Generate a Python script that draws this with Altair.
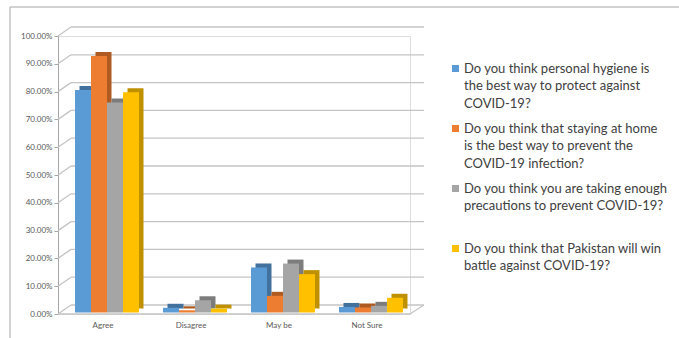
import altair as alt
import pandas as pd

categories = ["Agree", "Disagree", "May be", "Not Sure"]
series = [
    "Do you think personal hygiene is|the best way to protect against|COVID-19?",
    "Do you think that staying at home|is the best way to prevent the|COVID-19 infection?",
    "Do you think you are taking enough|precautions to prevent COVID-19?",
    "Do you think that Pakistan will win|battle against COVID-19?",
]
hygiene = [0.800, 0.017, 0.162, 0.020]
home = [0.923, 0.008, 0.060, 0.018]
precautions = [0.755, 0.044, 0.176, 0.024]
pakistan = [0.792, 0.014, 0.138, 0.053]
colors = ["#5B9BD5", "#ED7D31", "#A5A5A5", "#FFC000"]
side_colors = ["#41719C", "#AE5A21", "#7C7C7C", "#BF9000"]
ticks = [0.0, 0.1, 0.2, 0.3, 0.4, 0.5, 0.6, 0.7, 0.8, 0.9, 1.0]

rows = []
for s, vals, dark in zip(series, [hygiene, home, precautions, pakistan], side_colors):
    for c, v in zip(categories, vals):
        rows.append({"category": c, "series": s, "t": v, "side": dark})
df = pd.DataFrame(rows)
tick_df = pd.DataFrame({"t": ticks})
floor_df = pd.DataFrame({"t": [0.0]})
dummy = pd.DataFrame({"a": [0]})

FONT = "Lato"
W, H = 352, 278
DX, DY = 13, -9

y_axis = alt.Axis(format=".2%", values=ticks, grid=False, title=None,
                  domainColor="#a6a6a6", tickColor="#a6a6a6", tickSize=4,
                  labelFontSize=8, labelColor="#595959", labelFont=FONT,
                  labelPadding=2)
y_scale = alt.Scale(domain=[0, 1], nice=False)
x_axis = alt.Axis(title=None, domain=False, ticks=False, labelAngle=0,
                  labelFontSize=8, labelColor="#595959", labelFont=FONT,
                  labelPadding=7, labelOffset=-4)
xo_scale = alt.Scale(paddingInner=0, paddingOuter=0)

def Y():
    return alt.Y("t:Q", scale=y_scale, axis=y_axis)

def xscale(shift):
    return alt.Scale(paddingInner=24 / 88, paddingOuter=12 / 88, range=[shift, W + shift])

grid_h = alt.Chart(tick_df).mark_rule(color="#c4c4c4", strokeWidth=1.3, yOffset=DY).encode(
    y=Y(), x=alt.value(DX), x2=alt.value(W + DX + 1)
)
grid_d = alt.Chart(tick_df).mark_rule(color="#c4c4c4", strokeWidth=1.3, y2Offset=DY).encode(
    y=Y(), y2="t:Q", x=alt.value(0), x2=alt.value(DX)
)
floor_front = alt.Chart(floor_df).mark_rule(color="#c4c4c4", strokeWidth=1.3).encode(
    y=Y(), x=alt.value(0), x2=alt.value(W)
)
floor_right = alt.Chart(floor_df).mark_rule(color="#c4c4c4", strokeWidth=1.3, y2Offset=DY).encode(
    y=Y(), y2="t:Q", x=alt.value(W), x2=alt.value(W + DX + 1)
)

sides = alt.Chart(df).mark_bar(yOffset=-5.5, y2Offset=-5.5).encode(
    x=alt.X("category:N", sort=categories, scale=xscale(9.5), axis=None),
    xOffset=alt.XOffset("series:N", sort=series, scale=xo_scale),
    y=Y(),
    color=alt.Color("side:N", scale=None),
)
fronts = alt.Chart(df).mark_bar(yOffset=-1.5, y2Offset=-1.5).encode(
    x=alt.X("category:N", sort=categories, scale=xscale(5), axis=x_axis),
    xOffset=alt.XOffset("series:N", sort=series, scale=xo_scale),
    y=Y(),
    color=alt.Color(
        "series:N", sort=series,
        scale=alt.Scale(domain=series, range=colors),
        legend=alt.Legend(
            title=None, orient="none", legendX=391, legendY=26,
            symbolType="square", symbolSize=49, symbolStrokeWidth=0,
            labelFont=FONT, labelFontSize=13, labelColor="#404040",
            labelExpr="split(datum.label, '|')",
            labelLimit=400, labelOffset=2, gridAlign="all", rowPadding=11,
            padding=0, offset=0,
        ),
    ),
)

border_top = alt.Chart(dummy).mark_rule(color="#a6a6a6", strokeWidth=1).encode(
    x=alt.value(-48), x2=alt.value(621), y=alt.value(-29)
)
border_left = alt.Chart(dummy).mark_rule(color="#a6a6a6", strokeWidth=1).encode(
    x=alt.value(-48), y=alt.value(-29), y2=alt.value(302)
)

chart = alt.layer(
    border_top, border_left, grid_h, grid_d, floor_front, floor_right, sides, fronts
).resolve_scale(x="independent").properties(
    width=W, height=H,
    autosize=alt.AutoSizeParams(type="none"),
    padding={"left": 58, "top": 36, "right": 269, "bottom": 24},
    background="white",
).configure_view(stroke=None).configure(
    style={"guide-label": {"lineHeight": 17.5}}
)

chart.save("out.html", embed_options={"renderer": "svg", "actions": False})
